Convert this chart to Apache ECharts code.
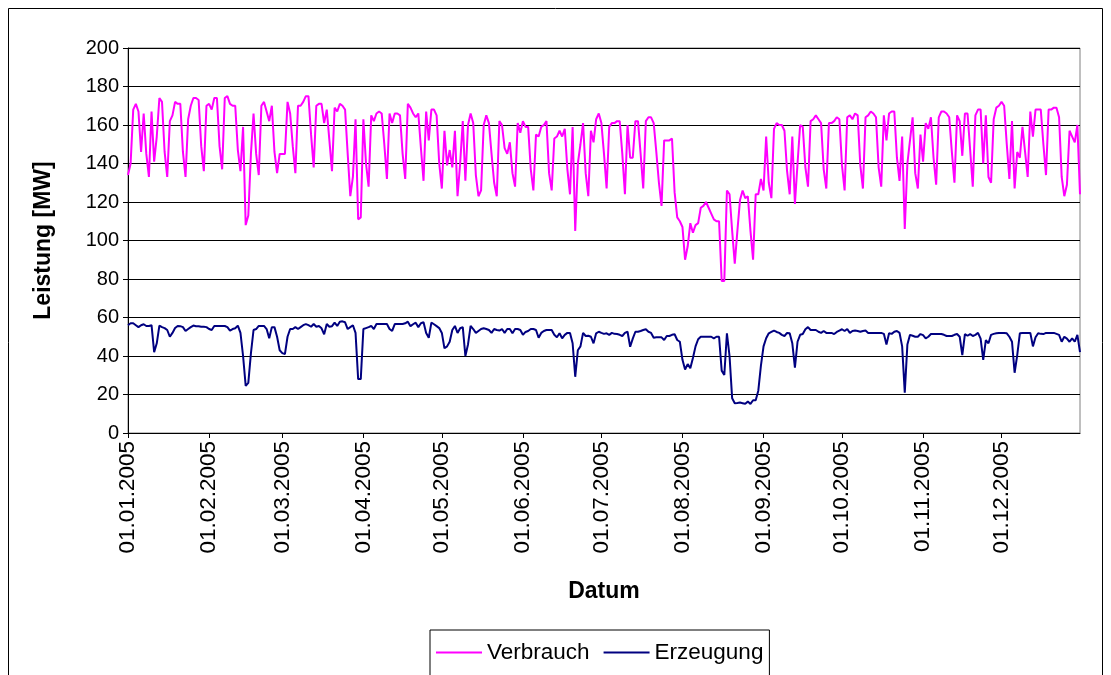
<!DOCTYPE html>
<html>
<head>
<meta charset="utf-8">
<script src="https://cdn.jsdelivr.net/npm/echarts@6/dist/echarts.min.js"></script>
<style>
  html, body { margin: 0; padding: 0; background: #fff; }
  #chart { width: 1111px; height: 675px; }
</style>
</head>
<body>
<div id="chart"></div>
<script>
// Tageswerte 2005 (MW)
const verbrauchQ1 = [
  134,140,168,171,167,146,166,145,133,167,
  141,154,174,172,146,133,162,165,172,171,
  171,146,133,163,170,174,174,173,149,136,
  170,171,168,174,174,149,137,174,175,171,
  170,170,147,136,159,108,113,145,166,145,
  134,170,172,167,162,170,146,135,145,145,
  145,172,166,149,135,170,170,172,175,175,
  155,138,170,171,171,161,168,152,136,169,
  167,171,170,168,145,123,133,163,111,112
];
const verbrauchQ2 = [
  163,140,128,165,162,166,167,166,150,132,
  166,161,166,166,165,145,132,171,169,166,
  164,166,148,131,167,152,168,168,165,140,
  127,157,139,147,138,157,123,140,162,131,
  160,166,161,134,123,126,160,165,161,145,
  130,123,162,160,148,145,151,135,128,161,
  156,162,159,159,137,126,155,154,159,160,
  162,135,126,153,154,157,154,158,137,124,
  159,105,140,150,161,135,123,157,151,163,166
];
const verbrauchQ3 = [
  161,145,127,159,161,161,162,162,145,124,
  160,143,143,162,162,145,127,162,164,164,
  161,146,130,118,152,152,152,153,125,112,
  110,107,90,97,109,104,108,109,117,118,
  120,117,114,111,110,110,79,79,126,124,
  105,88,105,121,126,122,123,105,90,124,
  124,132,126,154,130,122,158,161,160,160,
  157,136,124,154,119,140,160,159,138,128,
  162,163,165,163,161,137,127,161,161,162,164,163
];
const verbrauchQ4 = [
  139,126,164,165,163,166,165,139,127,164,
  165,167,166,164,138,128,165,152,166,167,
  167,143,131,154,106,140,152,164,135,127,
  155,141,161,158,164,143,129,164,167,167,
  166,164,146,130,165,162,144,166,166,147,
  128,165,168,168,140,165,133,130,163,169,
  170,172,170,150,132,162,127,146,143,159,
  146,133,167,154,168,168,168,150,134,168,
  168,169,169,164,133,123,129,157,154,151,160,124
];

const erzeugungQ1 = [
  56,57,57,56,55,56,56.5,55.6,55.6,56,
  42,46.6,55.8,55,54.5,53.5,50,52,54.5,55.6,
  55.5,55,53,54,55,55.8,55.5,55.5,55.2,55.2,
  55,54,53.5,55.6,55.6,55.6,55.6,55.6,55,53.2,
  54,54.4,55.8,52,40,24.5,26,41.4,53.5,54,
  55.6,55.6,55.6,54,49.2,55,55,50,43,41.5,
  41,50,54,54,55,54,55,56,56.6,56,
  55.2,56.6,55.2,55.6,54.4,51.3,56.6,55.2,55.5,57.3,
  55.6,57.8,58,57.5,54,55,56,52,28,28
];
const erzeugungQ2 = [
  54,54.5,55,55.6,54,56.6,56.6,56.6,56.6,56.6,
  54,53,56.6,56.6,56.6,56.6,57,57.8,55.5,56.5,
  57.3,55,57,57.5,52,49.5,57.3,56.5,55.5,54.5,
  52,44,45,47.4,53.5,55.6,52,54.4,55,40,
  46,55.6,54,52,53,54,54.4,54,53.5,52,
  54,53.5,53.2,54,52,54,54,51.8,54,54,
  53.5,51,52.5,53,54,54,53.5,49.5,52,53,
  53.5,53.5,53.5,51,49.7,51.8,49.2,51,52,52,
  46.6,29.2,43,45,52,50.4,50.5,50,46.6,51.8,52.6
];
const erzeugungQ3 = [
  52,51.5,51.8,51,52,51.5,51.4,51,50.4,52,
  52.6,44.8,49,52.6,52.6,53,53.5,53.9,52.6,52,
  49.5,49.7,49.7,49.7,48.3,50.4,50.4,51,51.3,48.3,
  47.4,38,33,35.8,33.6,39,45,48.7,50,50,
  50,50,50,49.2,50,50,32.4,30.1,51.8,40,
  18,15.5,15.6,15.8,15.5,15.2,16.3,15.1,17,17,
  22,35,45,49.2,51.8,52.5,53.2,52.5,52,51,
  50.4,52,51.8,46.6,34,47.4,51,51.4,53.9,55,
  53.5,53.5,53.5,52.6,52,53,52,52,52,51.4,52.5,53.2
];
const erzeugungQ4 = [
  53.9,53,54,52,53,53.2,53,52.6,53,53.2,
  52,52,52,52,52,52,51.5,46,51.8,51.5,
  52.6,53,52,45,21,46,51,50.5,50,50,
  51.4,50.8,49.2,50,51.4,51.4,51.4,51.4,51.4,51,
  50.4,50.4,50.4,51,51.4,50,40.5,51.4,50.5,51.4,
  50.4,51,52,49,38,48.3,46.6,51,51.5,51.8,
  52,52,52,51.8,50,47.4,31.3,40.5,51.8,52,
  52,52,52,45,49.7,51.8,51.5,51.4,52,52,
  52,52,51.5,51,47.4,50,49,47.4,49.2,47.4,51,42
];

const verbrauch = [...verbrauchQ1, ...verbrauchQ2, ...verbrauchQ3, ...verbrauchQ4];
const erzeugung = [...erzeugungQ1, ...erzeugungQ2, ...erzeugungQ3, ...erzeugungQ4];

// Datumskategorien 01.01.2005 .. 31.12.2005
const pad = n => (n < 10 ? "0" + n : "" + n);
const datum = [];
for (let i = 0; i < verbrauch.length; i++) {
  const d = new Date(Date.UTC(2005, 0, 1 + i));
  datum.push(pad(d.getUTCDate()) + "." + pad(d.getUTCMonth() + 1) + "." + d.getUTCFullYear());
}
const isMonthStart = (idx, val) => val.slice(0, 2) === "01";

const font = "'Liberation Sans', Arial, sans-serif";
const chart = echarts.init(document.getElementById("chart"));

chart.setOption({
  animation: false,
  textStyle: { fontFamily: font, color: "#000" },
  grid: { left: 128, right: 31, top: 48, bottom: 242, show: true, borderColor: "#808080", borderWidth: 1 },
  legend: {
    left: 430, top: 630, width: 345,
    itemWidth: 46, itemHeight: 2, itemGap: 14,
    icon: "rect",
    padding: [11, 6, 20, 6],
    borderColor: "#000", borderWidth: 1,
    textStyle: { fontFamily: font, fontSize: 22.5, color: "#000" },
    data: ["Verbrauch", "Erzeugung"]
  },
  xAxis: {
    type: "category",
    data: datum,
    boundaryGap: false,
    name: "Datum",
    nameLocation: "middle",
    nameGap: 147,
    nameTextStyle: { fontFamily: font, fontSize: 23, fontWeight: "bold", color: "#000" },
    axisLine: { lineStyle: { color: "#000", width: 1 } },
    axisTick: { show: true, interval: isMonthStart, length: 5, lineStyle: { color: "#000" } },
    axisLabel: { interval: isMonthStart, rotate: 90, fontSize: 22.5, color: "#000", margin: 8 },
    splitLine: { show: false }
  },
  yAxis: {
    type: "value",
    min: 0, max: 200, interval: 20,
    name: "Leistung [MW]",
    nameLocation: "middle",
    nameGap: 73,
    nameTextStyle: { fontFamily: font, fontSize: 23, fontWeight: "bold", color: "#000" },
    axisLine: { show: true, lineStyle: { color: "#000", width: 1 } },
    axisTick: { show: true, length: 5, lineStyle: { color: "#000" } },
    axisLabel: { fontSize: 20, color: "#000", margin: 9 },
    splitLine: { lineStyle: { color: "#000", width: 1 } }
  },
  series: [
    {
      name: "Verbrauch", type: "line", data: verbrauch,
      showSymbol: false, color: "#FF00FF",
      lineStyle: { color: "#FF00FF", width: 2 }
    },
    {
      name: "Erzeugung", type: "line", data: erzeugung,
      showSymbol: false, color: "#000080",
      lineStyle: { color: "#000080", width: 2 }
    }
  ],
  graphic: [{
    type: "rect",
    shape: { x: 8.5, y: 8.5, width: 1094, height: 700 },
    style: { fill: "none", stroke: "#000", lineWidth: 1 }
  }]
});
</script>
</body>
</html>
